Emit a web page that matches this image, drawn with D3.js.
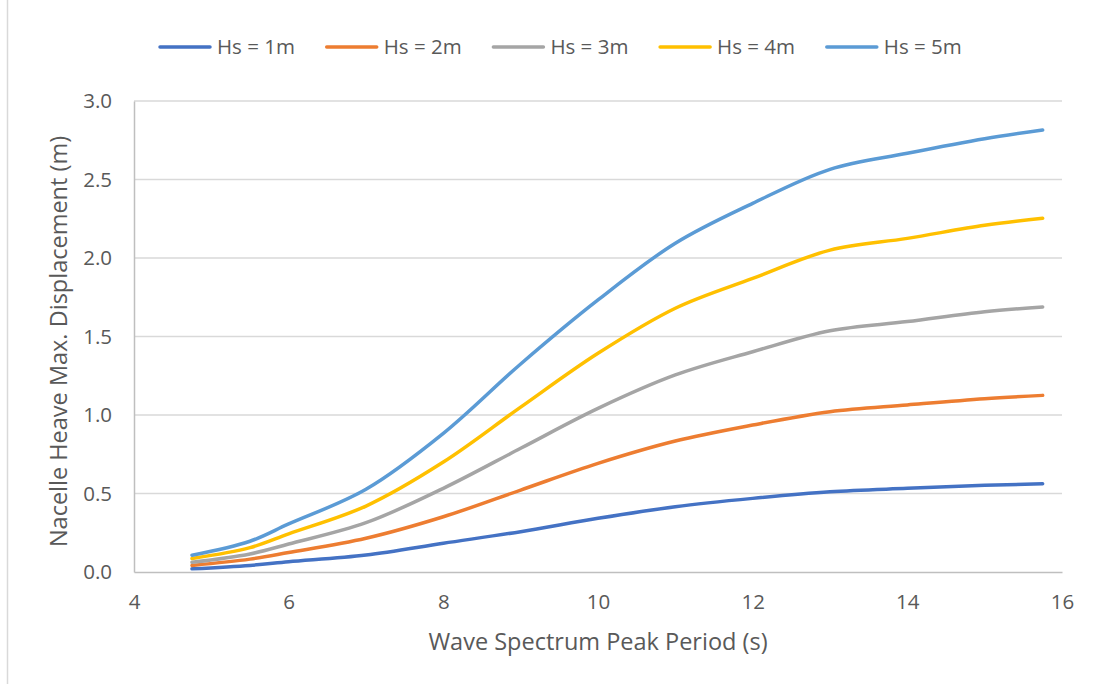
<!DOCTYPE html>
<html>
<head>
<meta charset="utf-8">
<script src="https://cdn.jsdelivr.net/npm/d3@7"></script>
<style>
  body { margin: 0; background: #fff; }
  svg text { font-family: 'Open Sans', 'Noto Sans', sans-serif; fill: #595959; }
</style>
</head>
<body>
<div id="chart"></div>
<script>
// wave spectrum peak period (s)
const periods = [4.75, 5.5, 6, 7, 8, 9, 10, 11, 12, 13, 14, 15, 15.75];

// nacelle heave max displacement (m), one list per significant wave height
const hs1 = [0.020, 0.042, 0.065, 0.108, 0.183, 0.257, 0.342, 0.416, 0.469, 0.511, 0.533, 0.552, 0.562];
const hs2 = [0.042, 0.082, 0.124, 0.215, 0.352, 0.522, 0.692, 0.834, 0.936, 1.021, 1.064, 1.104, 1.125];
const hs3 = [0.062, 0.115, 0.178, 0.314, 0.533, 0.788, 1.042, 1.255, 1.403, 1.537, 1.595, 1.658, 1.688];
const hs4 = [0.086, 0.155, 0.243, 0.420, 0.700, 1.050, 1.393, 1.680, 1.870, 2.050, 2.125, 2.208, 2.253];
const hs5 = [0.107, 0.196, 0.306, 0.527, 0.883, 1.325, 1.733, 2.094, 2.348, 2.565, 2.667, 2.760, 2.815];

const seriesNames = ['Hs = 1m', 'Hs = 2m', 'Hs = 3m', 'Hs = 4m', 'Hs = 5m'];
const seriesValues = [hs1, hs2, hs3, hs4, hs5];
const colors = ['#4472C4', '#ED7D31', '#A5A5A5', '#FFC000', '#5B9BD5'];

const xTicks = [4, 6, 8, 10, 12, 14, 16];
const yTicks = [0, 0.5, 1, 1.5, 2, 2.5, 3];

const width = 1099;
const height = 684;
const margin = { top: 101, right: 37, bottom: 112, left: 134 };

const svg = d3.select('#chart').append('svg')
  .attr('width', width)
  .attr('height', height);

// chart border (only left edge visible in frame)
svg.append('line')
  .attr('x1', 7.5).attr('x2', 7.5)
  .attr('y1', 0).attr('y2', height)
  .attr('stroke', '#D9D9D9')
  .attr('stroke-width', 1.5);

const x = d3.scaleLinear().domain([4, 16]).range([margin.left, width - margin.right]);
const y = d3.scaleLinear().domain([0, 3]).range([height - margin.bottom, margin.top]);

// gridlines
svg.append('g')
  .selectAll('line')
  .data(yTicks.filter((d) => d > 0))
  .enter()
  .append('line')
  .attr('x1', x(4)).attr('x2', x(16))
  .attr('y1', (d) => y(d)).attr('y2', (d) => y(d))
  .attr('stroke', '#D9D9D9')
  .attr('stroke-width', 1.5);

// axes
const xAxis = svg.append('g')
  .attr('transform', `translate(0,${y(0)})`)
  .call(d3.axisBottom(x).tickValues(xTicks).tickSize(0).tickPadding(22).tickFormat(d3.format('d')));
xAxis.select('.domain').attr('stroke', '#BFBFBF').attr('stroke-width', 1.5);
xAxis.selectAll('text').style('font-size', '20.5px');

const yAxis = svg.append('g')
  .attr('transform', `translate(${x(4)},0)`)
  .call(d3.axisLeft(y).tickValues(yTicks).tickSize(0).tickPadding(22).tickFormat(d3.format('.1f')));
yAxis.select('.domain').attr('stroke', '#BFBFBF').attr('stroke-width', 1.5);
yAxis.selectAll('text').style('font-size', '20.5px');

// axis titles
svg.append('text')
  .attr('x', (x(4) + x(16)) / 2)
  .attr('y', 650)
  .attr('text-anchor', 'middle')
  .style('font-size', '23.5px')
  .text('Wave Spectrum Peak Period (s)');

svg.append('text')
  .attr('transform', `translate(67,${(y(0) + y(3)) / 2 + 5}) rotate(-90)`)
  .attr('text-anchor', 'middle')
  .style('font-size', '23.5px')
  .text('Nacelle Heave Max. Displacement (m)');

// series lines
const line = d3.line()
  .x((d) => x(d[0]))
  .y((d) => y(d[1]))
  .curve(d3.curveCatmullRom.alpha(0.5));

svg.append('g')
  .selectAll('path')
  .data(seriesValues)
  .enter()
  .append('path')
  .attr('d', (vals) => line(vals.map((v, i) => [periods[i], v])))
  .attr('fill', 'none')
  .attr('stroke', (d, i) => colors[i])
  .attr('stroke-width', 3.5)
  .attr('stroke-linecap', 'round');

// legend
const legend = svg.append('g')
  .selectAll('g')
  .data(seriesNames)
  .enter()
  .append('g')
  .attr('transform', (d, i) => `translate(${160 + i * 166.7},47)`);

legend.append('line')
  .attr('x1', 0).attr('x2', 50)
  .attr('stroke', (d, i) => colors[i])
  .attr('stroke-width', 3.5)
  .attr('stroke-linecap', 'round');

legend.append('text')
  .attr('x', 57)
  .attr('dy', '0.35em')
  .style('font-size', '20.5px')
  .text((d) => d);
</script>
</body>
</html>
